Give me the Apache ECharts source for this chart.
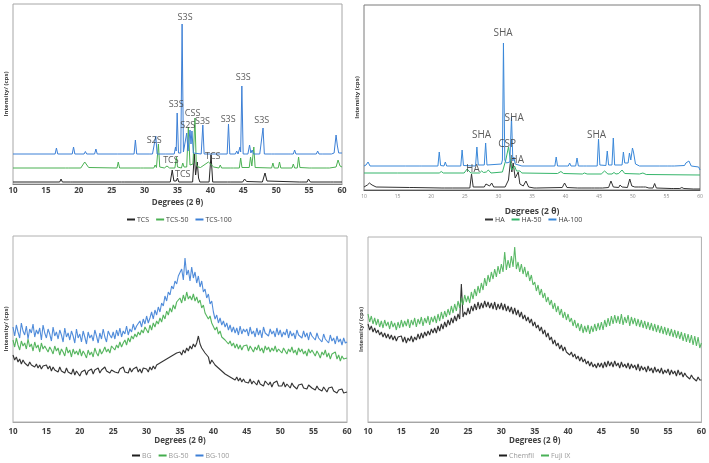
<!DOCTYPE html>
<html>
<head>
<meta charset="utf-8">
<script src="https://cdn.jsdelivr.net/npm/echarts@6/dist/echarts.min.js"></script>
<style>html,body{margin:0;padding:0;background:#fff}#c{width:709px;height:463px}</style>
</head>
<body>
<div id="c"></div>
<script>
// ---------- shared axis ticks ----------
const xTickLabels = [10, 15, 20, 25, 30, 35, 40, 45, 50, 55, 60];

// ---------- Panel A: TCS series ([2θ, intensity]) ----------
const tcs = [[10,2],[17.1,2],[17.3,5],[17.5,2],[18.7,2],[18.9,3],[19.1,2],[26.5,2],[26.7,4],[26.9,2],[29.3,2],[29.5,3],[29.7,2],[33.9,2],[34.2,14],[34.45,3],[34.8,3],[35.0,6],[35.2,2],[37.3,2],[37.55,30],[37.75,9],[38.0,22],[38.2,6],[38.4,2],[39.8,2],[40.1,29],[40.35,2],[42.6,2],[42.8,3],[43.0,2],[44.9,2],[45.2,5],[45.5,2.5],[47.9,2],[48.3,11],[48.6,3],[48.8,2],[53.5,2],[53.7,3],[53.9,2],[54.7,2],[54.9,5],[55.2,2],[58.3,2],[58.5,3.5],[58.7,2],[60,2]];
const tcs50 = [[10,16],[18.0,16],[18.2,17.5],[18.4,16],[20.3,16],[20.9,22],[21.5,16.5],[25.8,16],[26.0,22],[26.2,16],[29.4,16],[29.6,17.5],[29.8,16],[31.4,16],[31.6,19],[31.8,16.5],[31.95,17],[32.1,40],[32.3,17],[33.0,16],[33.4,18],[33.8,16],[34.6,16],[34.85,27],[35.0,17],[35.6,16],[35.8,21],[36.0,17],[36.4,17],[36.65,57],[36.9,19],[37.1,20],[37.35,20],[37.65,66],[37.85,20],[38.1,17],[38.5,16.5],[39.7,22],[40.5,17],[41.3,16],[41.5,19],[41.7,16],[43.1,16],[43.3,18],[43.5,16],[44.4,16],[44.6,26],[44.8,16.5],[45.9,16.5],[46.1,27],[46.3,18],[46.45,18],[46.6,37],[46.8,16.5],[49.3,16],[49.5,21],[49.7,16],[50.3,16],[50.5,22],[50.7,16],[52.4,16],[52.6,20],[52.8,16],[53.2,16],[53.4,27],[53.6,16.5],[55.0,16],[55.2,17.5],[55.4,16],[57.7,16],[57.9,18],[58.1,16],[59.1,17],[59.4,24],[59.7,18],[60,17]];
const tcs100 = [[10,30],[16.4,30],[16.6,36],[16.8,30],[19.0,30],[19.2,37],[19.4,30],[20.8,30],[21.0,32.5],[21.2,30],[22.4,30],[22.6,35],[22.8,30],[25.5,30],[25.7,31.5],[25.9,30],[28.4,30],[28.6,44],[28.8,30],[30.8,30],[31.0,31.5],[31.2,30],[31.5,30],[31.7,48],[31.9,30],[32.8,30],[33.0,31.5],[33.2,30],[34.5,30],[34.7,37],[34.8,33],[34.95,71],[35.15,31],[35.5,31],[35.7,160],[35.9,32],[36.2,31],[36.4,51],[36.6,33],[36.75,33],[36.9,54],[37.05,40],[37.2,53],[37.4,31],[38.6,30],[38.85,59],[39.05,30],[42.55,30],[42.75,60],[42.95,30],[43.8,30],[44.0,33],[44.2,30],[44.4,31],[44.5,37],[44.6,32],[44.78,98],[44.98,30],[45.3,30],[45.5,32],[45.7,30],[45.8,31],[45.95,39],[46.15,31],[46.35,34],[46.55,30],[47.1,30],[47.3,32],[47.5,30],[47.8,30],[48.0,56],[48.2,30],[49.3,30],[49.5,32],[49.7,30],[51.8,30],[52.0,32],[52.2,30],[52.6,30],[52.8,34],[53.0,30],[56.1,30],[56.3,33],[56.5,30],[56.6,30],[56.8,32],[57.0,30],[58.4,30],[58.6,32],[58.8,31],[59.1,49],[59.3,38],[59.5,31],[60,31]];
// peak labels: [2θ, intensity, text]
const tcsLabels = [[36.15,167,'S3S'],[34.8,80,'S3S'],[37.3,71,'CSS'],[36.55,59,'S2S'],[38.8,63,'S3S'],[42.7,65,'S3S'],[45.0,107,'S3S'],[47.8,64,'S3S'],[31.45,44,'S2S'],[34.0,24,'TCS'],[35.8,10,'TCS'],[40.35,28,'TCS']];

// ---------- Panel B: HA series ----------
const ha = [[10,3],[10.5,5],[10.8,7],[11.2,5],[11.8,3],[16.8,2.5],[17.0,4],[17.3,2.5],[21.6,2],[21.8,3.5],[22.0,2],[22.8,2],[23.0,3.5],[23.2,2],[25.75,2],[26.0,16],[26.25,3],[27.9,3],[28.15,6],[28.4,4],[28.7,4],[29.0,7],[29.3,3],[31.0,3],[31.5,10],[31.8,29],[32.0,18],[32.2,27],[32.5,12],[32.7,12],[32.95,18],[33.2,6],[33.7,4],[34.1,9],[34.5,3],[35.3,2],[35.5,3],[35.7,2],[39.5,2.5],[39.85,7],[40.2,2.5],[41.8,2],[42.0,3.5],[42.3,2],[43.8,2],[44.0,3.5],[44.3,2],[45.1,2],[45.3,3],[45.5,2],[46.4,2.5],[46.75,9],[47.1,3],[47.9,2.5],[48.1,5],[48.4,3],[49.2,2.5],[49.55,11],[49.85,4],[50.3,3],[50.5,5],[50.8,3],[51.1,3],[51.3,4.5],[51.6,3],[51.9,3],[52.1,4.5],[52.4,2],[53.0,2],[53.25,6.5],[53.5,2],[55.7,1.5],[55.9,3],[56.1,1.5],[57.0,1.5],[57.3,2.5],[57.6,1.5],[59.0,1],[59.2,2],[60,1]];
const ha50 = [[10,17],[15,17],[21.2,17],[21.5,18.5],[21.8,17],[24.9,17],[25.35,21],[25.9,17],[27.2,17],[27.5,19],[27.8,17.5],[28.2,18],[28.5,20],[28.9,17],[30.6,18],[31.1,30],[31.5,43],[31.8,30],[32.0,20],[32.4,24],[32.7,19],[33.2,19],[33.5,17],[38.8,16.5],[39.3,18.5],[39.7,16.5],[42.5,16],[42.8,17],[43.2,16],[45.3,16],[45.8,19],[46.3,16],[46.9,16],[47.2,17.5],[47.5,16],[47.9,16.5],[48.4,20],[48.8,16.5],[51.0,16],[51.5,17],[52,15.5],[60,15]];
const ha100 = [[10,24],[10.3,25],[10.6,28],[10.9,24],[15.8,24],[16.0,25],[16.2,24],[18.2,24],[18.4,25],[18.6,24],[21.0,24],[21.2,38],[21.4,24.5],[21.9,24],[22.1,28],[22.3,24],[24.4,24],[24.6,40],[24.8,24.5],[26.6,24],[26.8,43],[27.0,25],[27.9,25],[28.1,47],[28.3,25],[30.45,26],[30.6,30],[30.75,147],[30.95,30],[31.2,27],[31.7,28],[31.95,73],[32.15,29],[32.3,33],[32.5,26],[33.5,24],[38.4,24],[38.6,33],[38.8,24],[40.4,24],[40.6,27],[40.8,24],[41.5,24],[41.7,32],[41.9,24],[42.7,24],[42.9,26],[43.1,24],[44.7,24],[44.9,51],[45.1,25],[46.0,24.5],[46.2,39],[46.4,25],[46.9,25],[47.1,52],[47.3,25],[48.4,25],[48.6,38],[48.8,27],[49.3,27],[49.5,37],[49.7,30],[49.95,42],[50.1,38],[50.2,38],[50.4,26],[51,24],[53.6,24],[53.8,25],[54,24],[54.8,24],[55.0,25],[55.2,24],[55.8,24],[56.0,25.5],[56.2,24],[57.7,24.5],[57.9,27],[58.1,26],[58.35,29],[58.7,24],[59.8,23],[60,20]];
const haLabels = [[30.7,157,'SHA'],[32.35,72,'SHA'],[27.5,55,'SHA'],[44.6,55,'SHA'],[31.3,46,'CSP'],[32.8,30,'HA'],[26.2,21,'HA']];

// ---------- Panel C: bioactive glass, sampled every 0.25° from 10° to 60° ----------
const bottomStart = 10, bottomStep = 0.25;
const bg = [67,62,65,60,63,58,62,59,61,56,60,57,59,55,58,54,57,53,56,55,
57,53,56,51,55,52,54,50,55,51,53,49,54,50,52,48,53,47,51,49,
46,50,48,52,47,51,49,53,48,52,50,54,49,52,50,55,51,53,49,52,
54,50,52,49,53,51,55,50,52,49,54,50,53,51,55,50,53,49,54,52,
53,50,55,52,56,53,57,55,59,57,61,59,63,61,65,63,67,65,69,68,
70,67,72,69,74,71,76,73,78,75,79,86,78,74,76,69,70,65,58,62,
61,57,58,54,55,51,52,48,50,46,47,44,46,42,45,41,44,40,43,40,
42,39,43,38,41,40,37,42,38,40,36,41,39,37,40,35,39,37,41,36,
38,36,40,35,38,37,34,39,36,38,33,37,35,38,34,36,33,37,35,34,
35,32,36,33,34,31,35,33,30,34,32,35,31,33,29,32,30,33,29,31,
30];
const bg50 = [82,75,84,77,72,81,76,79,73,83,75,78,71,80,74,77,70,79,73,76,
77,70,75,72,68,76,71,74,67,73,70,66,75,69,72,65,73,68,71,67,
73,66,71,68,64,72,67,70,65,74,69,66,73,68,71,75,70,73,69,76,
78,72,77,74,80,75,79,82,77,84,80,86,83,88,85,90,87,92,89,95,
94,89,97,92,99,95,101,98,104,100,107,103,111,107,114,110,117,113,120,118,
124,119,127,121,130,123,126,122,128,121,125,119,122,114,117,109,111,103,106,99,
98,92,95,88,91,85,87,82,84,78,81,76,79,74,78,73,77,72,76,74,
77,71,76,73,70,75,72,77,71,74,69,76,72,75,70,74,71,76,70,73,
75,69,74,71,68,73,70,75,69,72,67,74,70,73,68,71,66,73,69,72,
72,66,71,68,64,70,67,72,65,69,63,68,66,70,63,67,61,66,63,65,
64];
const bg100 = [95,86,97,90,84,99,91,87,96,83,93,89,98,85,92,88,94,82,97,89,
84,93,88,81,95,86,90,83,92,87,80,94,85,89,82,91,86,79,93,84,
88,80,91,85,78,90,84,87,81,92,86,79,89,83,93,85,80,91,87,84,
90,83,92,86,94,85,91,88,96,87,93,90,98,92,96,94,101,95,103,98,
106,99,104,110,103,112,107,115,110,119,116,126,121,130,127,136,133,141,138,146,
145,153,142,164,147,152,141,155,144,150,139,146,135,141,130,133,124,128,118,121,
110,103,107,99,104,97,101,95,99,92,97,90,95,89,94,87,96,88,93,90,
93,86,95,88,91,85,94,87,92,84,95,89,90,86,93,88,91,85,94,87,
92,85,90,87,93,84,91,86,89,83,92,87,88,84,91,85,89,82,90,86,
88,82,89,84,86,80,88,83,85,79,87,81,84,78,86,80,83,77,84,79,
80];

// ---------- Panel D: commercial GICs ----------
const chemfil = [98,92,96,90,94,89,92,87,90,85,89,84,88,83,87,82,86,81,85,83,
86,80,85,79,84,81,86,80,85,82,88,83,89,84,90,86,91,87,93,89,
94,89,96,91,98,93,100,95,102,97,104,99,106,101,108,103,138,105,110,107,
114,108,116,111,118,112,120,113,119,114,121,115,120,114,119,113,120,112,118,113,
119,112,118,111,116,110,115,108,114,107,112,105,110,103,107,101,105,99,103,96,
100,94,97,91,95,88,92,85,89,82,85,78,82,76,79,73,77,71,75,70,
72,67,70,65,68,63,66,61,65,60,63,58,61,56,60,55,58,54,59,55,
59,54,60,55,61,56,60,55,61,56,59,54,60,55,58,54,59,53,58,54,
57,52,58,51,56,52,55,50,56,51,54,49,55,50,53,49,54,48,52,49,
53,47,52,48,51,46,52,47,50,45,49,46,48,43,47,44,46,41,45,42,
42];
const fuji = [108,100,106,98,104,97,103,95,101,94,102,96,100,93,101,95,99,92,100,94,
102,95,101,96,103,94,102,97,104,95,103,98,105,96,104,99,106,97,105,100,
106,99,108,101,110,103,111,105,113,107,116,109,118,111,121,114,124,117,127,120,
126,119,130,123,133,126,136,129,139,132,144,136,147,140,150,143,153,145,156,148,
158,150,170,152,162,154,166,155,175,153,160,150,158,148,155,145,151,141,147,137,
140,131,137,127,133,124,129,120,125,117,122,113,119,110,116,107,113,104,110,102,
108,100,104,96,102,94,99,91,98,89,96,90,97,88,96,90,98,91,99,92,
100,92,102,95,104,96,106,98,107,99,106,98,108,97,105,99,107,96,105,98,
104,96,103,95,102,94,101,93,100,92,99,91,98,90,97,89,96,88,95,87,
94,86,93,85,92,84,91,83,90,81,89,80,88,79,87,77,86,76,85,74,
79];

// ---------- build ----------
const pairs = arr => arr.map((v, i) => [bottomStart + i * bottomStep, v]);
const FONT = '"Open Sans", "Noto Sans", sans-serif';

const grids = [
  {left: 13, top: 4, width: 329, height: 180, borderColor: '#a6a6a6'},
  {left: 364, top: 5, width: 336, height: 185, borderColor: '#7a7a7a'},
  {left: 13, top: 236, width: 334, height: 186, borderColor: '#b0b0b0'},
  {left: 368, top: 237, width: 334, height: 185, borderColor: '#b0b0b0'}
].map(g => Object.assign({show: true, borderWidth: 1, containLabel: false}, g));

const yMax = [180, 185, 186, 185];
const yNames = ['Intensity/ (cps)', 'Intensity (cps)', 'Intensity/ (cps)', 'Intensity/ (cps)'];

function xAxis(i, opts) {
  return {
    type: 'value', gridIndex: i, min: xTickLabels[0], max: xTickLabels[xTickLabels.length - 1], interval: 5,
    axisLine: {show: true, lineStyle: {color: opts.lineColor, width: 1}},
    axisTick: {show: false}, splitLine: {show: false},
    axisLabel: {show: true, fontSize: opts.labelSize, color: opts.labelColor, fontWeight: opts.labelWeight, fontFamily: FONT, margin: opts.labelMargin},
    name: 'Degrees (2 θ)', nameLocation: 'middle', nameGap: opts.nameGap,
    nameTextStyle: {fontSize: opts.nameSize, fontWeight: 'bold', color: '#404040', fontFamily: FONT}
  };
}
const xAxes = [
  xAxis(0, {lineColor: '#7f7f7f', labelSize: 8, labelColor: '#404040', labelWeight: 'bold', labelMargin: 3, nameGap: 15, nameSize: 8}),
  xAxis(1, {lineColor: '#555', labelSize: 5, labelColor: '#8a8a8a', labelWeight: 'normal', labelMargin: 4, nameGap: 17, nameSize: 8.5}),
  xAxis(2, {lineColor: '#a6a6a6', labelSize: 8, labelColor: '#404040', labelWeight: 'bold', labelMargin: 6, nameGap: 15, nameSize: 8}),
  xAxis(3, {lineColor: '#a6a6a6', labelSize: 8, labelColor: '#404040', labelWeight: 'bold', labelMargin: 6, nameGap: 15, nameSize: 8})
];
const yAxes = yMax.map((m, i) => ({
  type: 'value', gridIndex: i, min: 0, max: m,
  axisLine: {show: false}, axisTick: {show: false}, axisLabel: {show: false}, splitLine: {show: false},
  name: yNames[i], nameLocation: 'middle', nameGap: 4, nameRotate: 90,
  nameTextStyle: {fontSize: 6, fontWeight: 'bold', color: '#404040', fontFamily: FONT}
}));

function line(name, data, i, color, width, opacity) {
  return {
    name, type: 'line', xAxisIndex: i, yAxisIndex: i, data,
    showSymbol: false, symbol: 'none', animation: false, silent: true,
    itemStyle: {color},
    lineStyle: {color, width: width || 1, opacity: opacity == null ? 1 : opacity}
  };
}
function labels(arr, i, size, weight) {
  return {
    type: 'scatter', xAxisIndex: i, yAxisIndex: i, silent: true, animation: false, z: 10,
    symbolSize: 0, data: arr,
    label: {show: true, position: 'inside', formatter: p => p.data[2], fontSize: size, fontWeight: weight, color: '#333', fontFamily: FONT}
  };
}

const BLACK = '#262626', GREEN = '#4bb153', BLUE = '#3d80d6';
const series = [
  line('TCS', tcs, 0, BLACK), line('TCS-50', tcs50, 0, GREEN), line('TCS-100', tcs100, 0, BLUE),
  labels(tcsLabels, 0, 9, 'normal'),
  line('HA', ha, 1, '#333333'), line('HA-50', ha50, 1, '#35b56a'), line('HA-100', ha100, 1, '#3a88d9'),
  labels(haLabels, 1, 10, 'normal'),
  line('BG', pairs(bg), 2, '#1e1e1e', 1.1, 0.9), line('BG-50', pairs(bg50), 2, '#43ad4c', 1.1, 0.9), line('BG-100', pairs(bg100), 2, '#3d7fd6', 1.1, 0.9),
  line('Chemfil', pairs(chemfil), 3, '#1e1e1e', 1.1, 0.9), line('Fuji IX', pairs(fuji), 3, '#49b157', 1.1, 0.9)
];

function legend(names, left, top, color) {
  return {
    data: names, left, top, padding: 0, itemGap: 7, itemWidth: 8, itemHeight: 2, icon: 'rect',
    orient: 'horizontal', selectedMode: false,
    textStyle: {fontSize: 7, color, fontFamily: FONT, padding: [0, 0, 0, -3]}
  };
}

const chart = echarts.init(document.getElementById('c'), null, {renderer: 'canvas'});
chart.setOption({
  backgroundColor: '#fff',
  animation: false,
  grid: grids, xAxis: xAxes, yAxis: yAxes, series,
  legend: [
    legend(['TCS', 'TCS-50', 'TCS-100'], 127, 216, '#404040'),
    legend(['HA', 'HA-50', 'HA-100'], 485, 216, '#404040'),
    legend(['BG', 'BG-50', 'BG-100'], 132, 452, '#999'),
    legend(['Chemfil', 'Fuji IX'], 499, 452, '#999')
  ]
});
</script>
</body>
</html>
